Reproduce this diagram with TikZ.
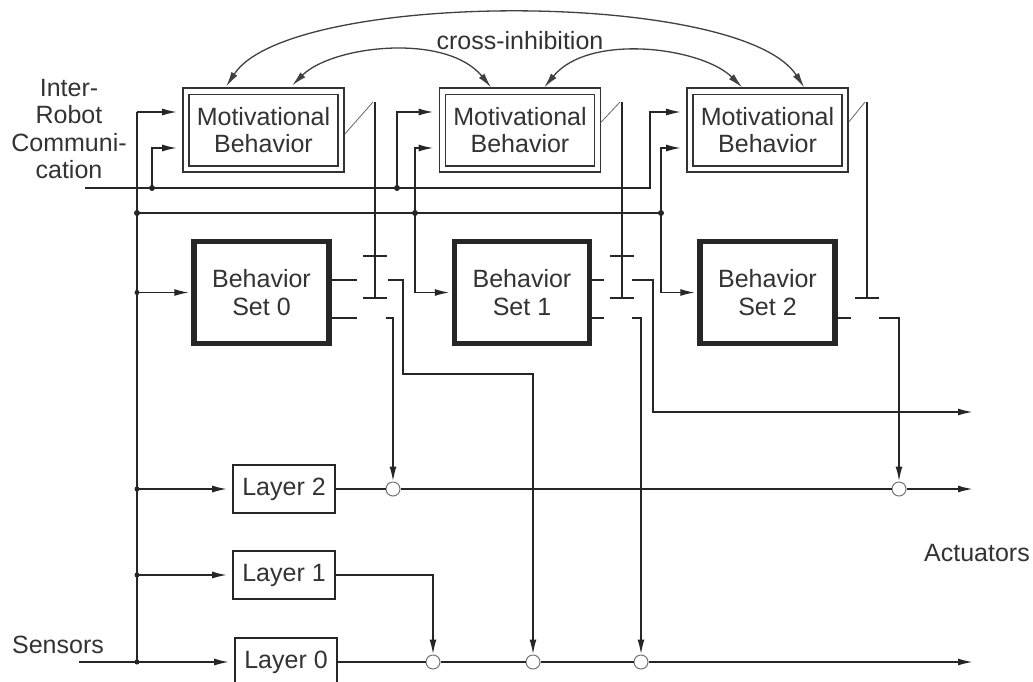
\documentclass[tikz,border=0pt]{standalone}
\usepackage{fontspec}
\setmainfont{Liberation Sans}
\usepackage{tikz}
\usetikzlibrary{%
	arrows.meta,%
	calc,%
	positioning
}
\tikzset{%
	wire/.style={line width=1.8pt,black!85},
	feed/.style={wire,-{Latex[length=15pt,width=7pt]}},
	xarc/.style={line width=1.3pt,black!75,{Latex[length=15pt,width=7pt]}-{Latex[length=15pt,width=7pt]}},
	motiv/.style={draw=black!80,double,double distance=4.5pt,line width=1.6pt,minimum width=155pt,minimum height=77.5pt,inner sep=0pt,align=center},
	behset/.style={draw=black!85,line width=5.5pt,minimum width=135pt,minimum height=102pt,inner sep=0pt,align=center},
	layerbox/.style={draw=black!85,line width=1.6pt,minimum width=102pt,minimum height=48pt,inner sep=0pt},
	junc/.style={circle,fill=black!85,inner sep=0pt,minimum size=6pt},
	sumpt/.style={circle,draw=black!55,fill=white,line width=1pt,inner sep=0pt,minimum size=14pt}
}

\begin{document}
\begin{tikzpicture}[x=1pt,y=-1pt,font=\fontsize{25}{27.5}\selectfont,text=black!80]
	\path[use as bounding box,fill=white] (0,0) rectangle (1033,681);
	\foreach \X [count=\i from 0] in {263.5,520,767.5}
		\node[motiv] (mb\i) at (\X,130) {Motivational\\Behavior};
	\foreach \X [count=\i from 0] in {261.5,522,767.5}
		\node[behset] (bs\i) at (\X,292.5) {Behavior\\Set \i};
	\node[layerbox] (l2) at (284,489) {Layer 2};
	\node[layerbox] (l1) at (284,575) {Layer 1};
	\node[layerbox] (l0) at (286,662) {Layer 0};
	\node[align=center] (irc) at (69,129) {Inter-\\Robot\\Communi-\\cation};
	\node (sens) at (58,645) {Sensors};
	\node (act) at (977,553) {Actuators};
	\node (xinh) at (520,41) {cross-inhibition};
	\coordinate (cin) at (85,188);
	\coordinate (sin) at (79,662);
	\coordinate (bTop) at (137,112);
	\coordinate (bMid) at (137,213);
	\coordinate (bBot) at (137,662);
	\coordinate (cTap0) at (152,188);
	\coordinate (cTap1) at (397,188);
	\coordinate (cEnd) at (650,112);
	\coordinate (sTap1) at (415,213);
	\coordinate (sTap2) at (661,213);
	\coordinate (a1) at (973,412);
	\coordinate (a2) at (973,489);
	\coordinate (a0) at (973,662);
	\node[sumpt] (c20) at (393,489) {};
	\node[sumpt] (c21) at (899,489) {};
	\node[sumpt] (c00) at (433,662) {};
	\node[sumpt] (c01) at (533,662) {};
	\node[sumpt] (c02) at (641,662) {};
	% sensors
	\draw[feed,shorten >=5pt] (sin) -- (l0);
	\draw[wire] (bBot) -- (bTop);
	\draw[feed,shorten >=8pt] (bTop) -- (bTop -| mb0.west);
	\draw[feed,shorten >=2pt] (bBot |- bs0) -- (bs0);
	\foreach \L in {l2,l1}
		\draw[feed,shorten >=5pt] (bBot |- \L) -- (\L);
	\draw[wire] (bMid) -- (sTap2);
	\foreach \i/\T in {1/sTap1,2/sTap2}{
		\draw[feed,shorten >=8pt] (\T) |- ($(mb\i.west)+(0,18)$);
		\draw[feed,shorten >=2pt] (\T) |- (bs\i);
	}
	% communication
	\draw[feed,shorten >=8pt] (cin) -| (cEnd) -- (cEnd -| mb2.west);
	\draw[feed,shorten >=8pt] (cTap0) |- ($(mb0.west)+(0,18)$);
	\draw[feed,shorten >=8pt] (cTap1) |- ($(mb1.west)+(0,-18)$);
	\foreach \P in {bMid,cTap0,cTap1,sTap1,sTap2}
		\node[junc] at (\P) {};
	\foreach \L in {bs0,l2,l1,l0}
		\node[junc,minimum size=5pt] at (bBot |- \L) {};
	% inhibition
	\foreach \i/\g/\d in {0/375/4,1/622/-8,2/867/-8}{
		\draw[black!60,line width=0.8pt] ($(mb\i.east)+(3,\d)$) -- (\g-2,102);
		\draw[wire] (\g,102) -- (\g,298);
		\draw[wire] (\g-12,298) -- (\g+12,298);
	}
	\foreach \i/\g in {0/375,1/622}{
		\draw[wire] (\g-12,256) -- (\g+12,256);
		\draw[wire] (bs\i.east |- 0,280) -- (\g-18,280);
		\draw[wire] (bs\i.east |- 0,318) -- (\g-18,318);
	}
	\draw[wire] (bs2.east |- 0,318) -- (851,318);
	\draw[feed] (388,280) -| (403,374) -| (c01);
	\draw[feed] (386,318) -| (c20);
	\draw[feed] (632,280) -| (653,412) -- (a1);
	\draw[feed] (632,318) -| (c02);
	\draw[feed] (879,318) -| (c21);
	% layers
	\draw[wire] (l2) -- (c20) -- (c21);
	\draw[feed] (c21) -- (a2);
	\draw[feed] (l1) -| (c00);
	\draw[wire] (l0) -- (c00) -- (c01) -- (c02);
	\draw[feed] (c02) -- (a0);
	% cross-inhibition
	\draw[xarc] ($(mb0.north west)+(41,-4)$) .. controls +(63,-97) and +(-63,-98) .. ($(mb2.north west)+(115,-3)$);
	\draw[xarc] ($(mb0.north west)+(107,-5)$) .. controls +(40,-40) and +(-45,-55) .. ($(mb1.north west)+(49.5,-3)$);
	\draw[xarc] ($(mb1.north west)+(102.5,-3)$) .. controls +(45,-55) and +(-40,-40) .. ($(mb2.north west)+(53,-3)$);
\end{tikzpicture}
\end{document}
